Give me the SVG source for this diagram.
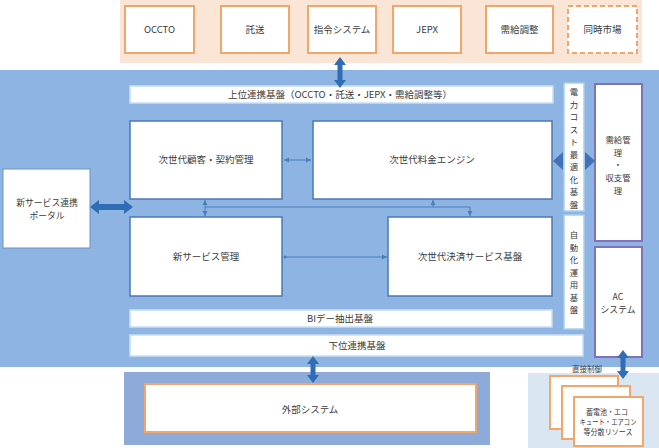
<svg xmlns="http://www.w3.org/2000/svg" width="659" height="448" viewBox="0 0 659 448">
<defs>
<style>
text{font-family:"Noto Sans CJK JP","Noto Sans",sans-serif;font-size:9.5px;fill:#3a3a3a;text-anchor:middle}
.sm{font-size:7.5px}
.v{font-size:8.4px}
.m{font-size:8.8px}
.ext{fill:#fff;stroke:#f2a66a;stroke-width:2}
.dash{stroke-dasharray:5 3}
.box{fill:#fff;stroke:#4a78b5;stroke-width:1.5}
.bar{fill:#fff;stroke:#c9def3;stroke-width:1.5}
.vbar{fill:#fff;stroke:#a9d0ec;stroke-width:1.5}
.pur{fill:#fff;stroke:#8470b8;stroke-width:2}
.thin{stroke:#4a7ebb;stroke-width:1;fill:none}
.big{fill:#2f6db4}
</style>
<marker id="ah" markerWidth="6" markerHeight="6" refX="5" refY="3" orient="auto-start-reverse" markerUnits="userSpaceOnUse">
<path d="M0,0.5 L5,3 L0,5.5 Z" fill="#4a7ebb"/>
</marker>
</defs>

<g id="backgrounds">
<rect x="120" y="0" width="522" height="63" fill="#fbe5d6"/>
<rect x="0" y="70" width="659" height="297" fill="#8db4e2"/>
<rect x="124" y="372" width="366" height="73" fill="#8eaad9"/>
<rect x="528" y="373" width="131" height="75" fill="#dae6f2"/>
</g>

<g id="n-occto"><rect class="ext" x="125" y="6" width="69" height="47"/><text x="159.5" y="33">OCCTO</text></g>
<g id="n-takuso"><rect class="ext" x="221" y="6" width="68" height="47"/><text x="255" y="33">託送</text></g>
<g id="n-shirei"><rect class="ext" x="308" y="6" width="68" height="47"/><text x="342" y="33">指令システム</text></g>
<g id="n-jepx"><rect class="ext" x="393" y="6" width="68" height="47"/><text x="427" y="33">JEPX</text></g>
<g id="n-jukyu"><rect class="ext" x="486" y="6" width="67" height="47"/><text x="519.5" y="33">需給調整</text></g>
<g id="n-doji"><rect class="ext dash" x="568" y="6" width="69" height="47"/><text x="602.5" y="33">同時市場</text></g>

<g id="n-joui"><rect class="bar" x="130" y="86" width="423" height="17"/><text x="340" y="98">上位連携基盤（OCCTO・託送・JEPX・需給調整等）</text></g>
<g id="n-kokyaku"><rect class="box" x="130" y="121" width="152" height="78"/><text x="206" y="163">次世代顧客・契約管理</text></g>
<g id="n-ryokin"><rect class="box" x="313" y="121" width="239" height="78"/><text x="432" y="163">次世代料金エンジン</text></g>
<g id="n-shinservice"><rect class="box" x="130" y="217" width="152" height="79"/><text x="206" y="260">新サービス管理</text></g>
<g id="n-kessai"><rect class="box" x="388" y="217" width="164" height="79"/><text x="470" y="260">次世代決済サービス基盤</text></g>
<g id="n-bi"><rect class="bar" x="130" y="310" width="422" height="17"/><text x="340" y="321.5">BIデー抽出基盤</text></g>
<g id="n-kai"><rect class="bar" x="130" y="335" width="453" height="21"/><text x="357" y="349">下位連携基盤</text></g>

<g id="n-denryoku"><rect class="vbar" x="564" y="83" width="20" height="128"/>
<text class="v" x="574" y="95">電</text><text class="v" x="574" y="107.5">力</text><text class="v" x="574" y="120">コ</text><text class="v" x="574" y="132.5">ス</text><text class="v" x="574" y="145">ト</text><text class="v" x="574" y="157.5">最</text><text class="v" x="574" y="170">適</text><text class="v" x="574" y="182.5">化</text><text class="v" x="574" y="195">基</text><text class="v" x="574" y="207.5">盤</text>
</g>
<g id="n-jidouka"><rect class="vbar" x="564" y="215" width="20" height="114"/>
<text class="v" x="574" y="238">自</text><text class="v" x="574" y="250.5">動</text><text class="v" x="574" y="263">化</text><text class="v" x="574" y="275.5">運</text><text class="v" x="574" y="288">用</text><text class="v" x="574" y="300.5">基</text><text class="v" x="574" y="313">盤</text>
</g>
<g id="n-jukyukanri"><rect class="pur" x="595" y="84" width="47" height="157"/>
<text class="v" x="618" y="143">需給管</text><text class="v" x="618" y="155.5">理</text><text class="v" x="618" y="168">・</text><text class="v" x="618" y="181">収支管</text><text class="v" x="618" y="193.5">理</text>
</g>
<g id="n-ac"><rect class="pur" x="595" y="247" width="47" height="110"/>
<text class="m" x="618" y="300">AC</text><text class="m" x="618" y="313">システム</text>
</g>

<g id="n-portal"><rect x="3" y="169" width="87" height="79" fill="#fff" stroke="#6f93c4" stroke-width="1"/>
<text class="m" x="47" y="206">新サービス連携</text><text class="m" x="47" y="219">ポータル</text></g>

<g id="n-gaibu"><rect class="ext" x="145" y="384" width="331" height="48"/><text x="310" y="413">外部システム</text></g>

<g id="n-resources">
<text class="sm" x="587" y="372">直接制御</text>
<rect class="ext" x="550" y="376" width="68" height="53"/>
<rect class="ext" x="562" y="386" width="68" height="53"/>
<rect class="ext" x="574" y="397" width="69" height="49"/>
<text class="sm" x="607" y="415" textLength="42" lengthAdjust="spacingAndGlyphs">蓄電池・エコ</text>
<text class="sm" x="608" y="425" textLength="57" lengthAdjust="spacingAndGlyphs">キュート・エアコン</text>
<text class="sm" x="608" y="435" textLength="49" lengthAdjust="spacingAndGlyphs">等分散リソース</text>
</g>

<g id="connectors">
<line class="thin" x1="284" y1="160" x2="311" y2="160" marker-start="url(#ah)" marker-end="url(#ah)"/>
<line class="thin" x1="205" y1="207" x2="470" y2="207"/>
<line class="thin" x1="205" y1="207" x2="205" y2="200" marker-end="url(#ah)"/>
<line class="thin" x1="205" y1="207" x2="205" y2="216" marker-end="url(#ah)"/>
<line class="thin" x1="433" y1="207" x2="433" y2="200" marker-end="url(#ah)"/>
<line class="thin" x1="470" y1="207" x2="470" y2="216" marker-end="url(#ah)"/>
<circle cx="285" cy="257" r="1.5" fill="#4a7ebb"/>
<line class="thin" x1="285" y1="257" x2="387" y2="257" marker-end="url(#ah)"/>
<polygon class="big" points="90,207 99,200 99,204 124,204 124,200 133,207 124,214 124,210 99,210 99,214"/>
<polygon class="big" points="340,57 346,65 342.5,65 342.5,80 346,80 340,88 334,80 337.5,80 337.5,65 334,65"/>
<polygon class="big" points="313,356 319,364 315.5,364 315.5,375 319,375 313,383 307,375 310.5,375 310.5,364 307,364"/>
<polygon class="big" points="623,350 629,358 625.5,358 625.5,371 629,371 623,379 617,371 620.5,371 620.5,358 617,358"/>
<polygon fill="#3f73b5" points="553,161 563,152 563,170"/>
<polygon fill="#3f73b5" points="595,161 585,152 585,170"/>
</g>
</svg>
